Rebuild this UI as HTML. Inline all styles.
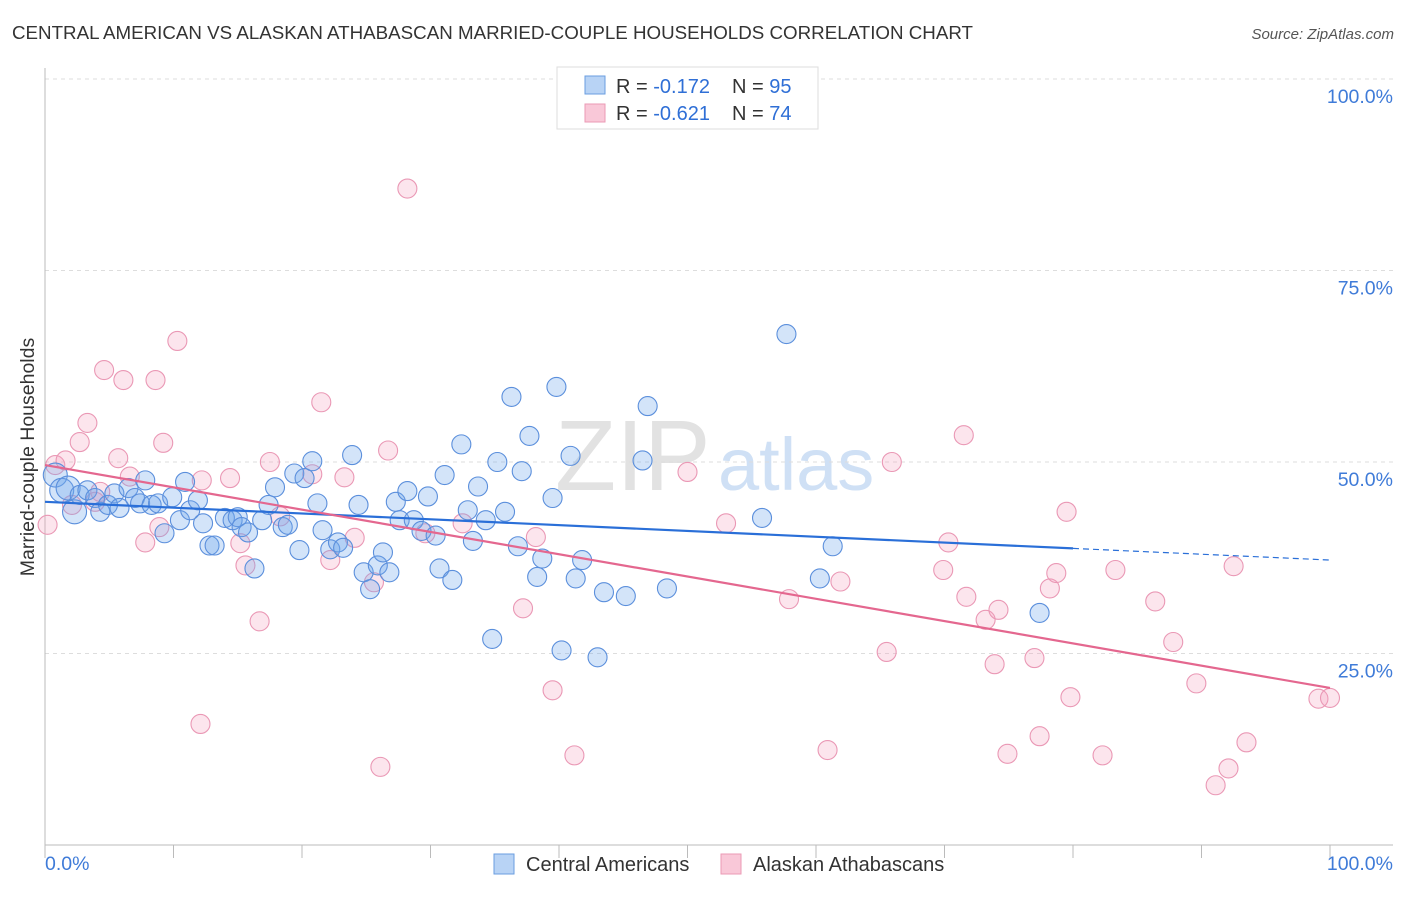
<!DOCTYPE html>
<html><head><meta charset="utf-8"><style>
body{margin:0;background:#fff;font-family:"Liberation Sans",sans-serif;}
svg text{font-family:"Liberation Sans",sans-serif;}
</style></head><body>
<svg id="chart" width="1406" height="892" viewBox="0 0 1406 892" xmlns="http://www.w3.org/2000/svg">
<text x="12" y="39" font-size="18.6" fill="#333" textLength="961" lengthAdjust="spacingAndGlyphs">CENTRAL AMERICAN VS ALASKAN ATHABASCAN MARRIED-COUPLE HOUSEHOLDS CORRELATION CHART</text>
<text x="1394" y="39" font-size="15" fill="#555" font-style="italic" text-anchor="end">Source: ZipAtlas.com</text>
<text transform="translate(34,457) rotate(-90)" font-size="19.5" fill="#333" text-anchor="middle">Married-couple Households</text>
<g>
<text x="555" y="490" font-size="100" fill="#e2e2e2" font-family="Liberation Serif, serif">ZIP</text>
<text x="718" y="490" font-size="74" fill="#cfe0f5">atlas</text>
</g>
<g id="grid"></g>
<g id="axes"></g>
<g id="marks"></g>
<g id="legend">
<rect x="557" y="67" width="261" height="62" fill="#fff" stroke="#ddd"/>
<rect x="585" y="76" width="20" height="18" fill="#b8d3f5" stroke="#6a9ee0"/>
<rect x="585" y="104" width="20" height="18" fill="#f9c8d8" stroke="#eb9ab5"/>
<text x="616" y="93" font-size="20" fill="#333">R = <tspan fill="#2f6fd6">-0.172</tspan></text>
<text x="732" y="93" font-size="20" fill="#333">N = <tspan fill="#2f6fd6">95</tspan></text>
<text x="616" y="120" font-size="20" fill="#333">R = <tspan fill="#2f6fd6">-0.621</tspan></text>
<text x="732" y="120" font-size="20" fill="#333">N = <tspan fill="#2f6fd6">74</tspan></text>
</g>
<g>
<rect x="494" y="854" width="20" height="20" fill="#b8d3f5" stroke="#6a9ee0"/>
<text x="526" y="871" font-size="20" fill="#333">Central Americans</text>
<rect x="721" y="854" width="20" height="20" fill="#f9c8d8" stroke="#eb9ab5"/>
<text x="753" y="871" font-size="20" fill="#333">Alaskan Athabascans</text>
</g>
</svg>
<script>
const blueX=[0.8,1.3,1.8,2.3,2.7,3.3,3.9,4.3,4.9,5.4,5.8,6.5,7.0,7.4,7.8,8.3,8.8,9.3,9.9,10.5,10.9,11.3,11.9,12.3,12.8,13.2,14.0,14.6,15.0,15.3,15.8,16.3,16.9,17.4,17.9,18.5,18.9,19.4,19.8,20.2,20.8,21.2,21.6,22.2,22.8,23.2,23.9,24.4,24.8,25.3,25.9,26.3,26.8,27.3,27.6,28.2,28.7,29.3,29.8,30.4,30.7,31.1,31.7,32.4,32.9,33.3,33.7,34.3,34.8,35.2,35.8,36.3,36.8,37.1,37.7,38.3,38.7,39.5,39.8,40.2,40.9,41.3,41.8,43.0,43.5,45.2,46.5,46.9,48.4,55.8,57.7,60.3,61.3,77.4];
const blueY=[48.3,46.3,46.6,43.5,45.7,46.3,45.3,43.5,44.4,45.9,44.0,46.6,45.3,44.6,47.6,44.4,44.6,40.7,45.4,42.4,47.4,43.7,45.0,42.0,39.1,39.1,42.7,42.4,42.8,41.5,40.8,36.1,42.4,44.4,46.7,41.5,41.8,48.5,38.5,47.9,50.1,44.6,41.1,38.6,39.5,38.8,50.9,44.4,35.6,33.4,36.5,38.2,35.6,44.8,42.4,46.2,42.4,41.0,45.5,40.4,36.1,48.3,34.6,52.3,43.7,39.7,46.8,42.4,26.9,50.0,43.5,58.5,39.0,48.8,53.4,35.0,37.4,45.3,59.8,25.4,50.8,34.8,37.2,24.5,33.0,32.5,50.2,57.3,33.5,42.7,66.7,34.8,39.0,30.3];
const pinkX=[0.2,0.8,1.6,2.1,2.7,3.3,3.9,4.3,4.6,5.7,6.1,6.6,7.8,8.6,8.9,9.2,10.3,12.1,12.2,14.4,15.2,15.6,16.7,17.5,18.3,20.8,21.5,22.2,23.3,24.1,25.6,26.1,26.7,28.2,29.6,32.5,37.2,38.2,39.5,41.2,50.0,53.0,57.9,60.9,61.9,65.5,65.9,69.9,70.3,71.5,71.7,73.2,73.9,74.2,74.9,77.0,77.4,78.2,78.7,79.5,79.8,82.3,83.3,86.4,87.8,89.6,91.1,92.1,92.5,93.5,99.1,100.0];
const pinkY=[41.8,49.6,50.2,44.4,52.6,55.1,44.8,46.1,62.0,50.5,60.7,48.1,39.5,60.7,41.5,52.5,65.8,15.8,47.6,47.9,39.4,36.5,29.2,50.0,42.9,48.4,57.8,37.2,48.0,40.1,34.3,10.2,51.5,85.7,40.7,42.0,30.9,40.2,20.2,11.7,48.7,42.0,32.1,12.4,34.4,25.2,50.0,35.9,39.5,53.5,32.4,29.4,23.6,30.7,11.9,24.4,14.2,33.5,35.5,43.5,19.3,11.7,35.9,31.8,26.5,21.1,7.8,10.0,36.4,13.4,19.1,19.2];
const blueTrend=[44.8,-0.076];
const pinkTrend=[49.6,-0.291];
const yTicks=[25,50,75,100];
const yTickLabels=["25.0%","50.0%","75.0%","100.0%"];
const xTickVals=[0,10,20,30,40,50,60,70,80,90,100];

const NS="http://www.w3.org/2000/svg";
const X0=45,X1=1330,Y0=845,Y100=79;
const sx=v=>X0+(X1-X0)*v/100;
const sy=v=>Y0-(Y0-Y100)*v/100;
function mk(tag,attrs,parent){const e=document.createElementNS(NS,tag);for(const k in attrs)e.setAttribute(k,attrs[k]);parent.appendChild(e);return e;}
const grid=document.getElementById('grid'),axes=document.getElementById('axes'),marks=document.getElementById('marks');
yTicks.forEach((t,i)=>{
  const l=mk('line',{x1:X0,x2:1393,y1:sy(t),y2:sy(t),stroke:'#ddd','stroke-dasharray':'4,4'},grid);
  
  
  const tx=mk('text',{x:1393,y:sy(t)+24,'font-size':19.5,fill:'#3f7bd8','text-anchor':'end'},axes);
  tx.textContent=yTickLabels[i];
  
  
});
const ax=mk('line',{x1:X0,x2:1393,y1:Y0,y2:Y0,stroke:'#bbb'},axes);


const ay=mk('line',{x1:X0,x2:X0,y1:68,y2:Y0,stroke:'#bbb'},axes);


xTickVals.forEach(t=>{
  const l=mk('line',{x1:sx(t),x2:sx(t),y1:Y0,y2:Y0+13,stroke:'#bbb'},axes);
  
  
});
const xl0=mk('text',{x:45,y:870,'font-size':19.5,fill:'#3f7bd8'},axes);xl0.textContent='0.0%';


const xl1=mk('text',{x:1393,y:870,'font-size':19.5,fill:'#3f7bd8','text-anchor':'end'},axes);xl1.textContent='100.0%';



function dots(xs,ys,fill,stroke,name){
  xs.forEach((x,i)=>{
    const r=(x<2.5&&name==='central-american-point')?12:9.5;
    const c=mk('circle',{cx:sx(x),cy:sy(ys[i]),r:r,fill:fill,stroke:stroke,'stroke-width':1.1},marks);
    
    
  });
}
dots(pinkX,pinkY,'rgba(244,160,190,0.28)','#ea98b5','athabascan-point');
dots(blueX,blueY,'rgba(110,165,235,0.3)','#5b8fdc','central-american-point');
const bt=v=>blueTrend[0]+blueTrend[1]*v, pt=v=>pinkTrend[0]+pinkTrend[1]*v;
const b1=mk('line',{x1:sx(0),y1:sy(bt(0)),x2:sx(80),y2:sy(bt(80)),stroke:'#2a6fd8','stroke-width':2.2},marks);


const b2=mk('line',{x1:sx(80),y1:sy(bt(80)),x2:sx(100),y2:sy(bt(100)),stroke:'#2a6fd8','stroke-width':1.2,'stroke-dasharray':'6,4'},marks);


const p1=mk('line',{x1:sx(0),y1:sy(pt(0)),x2:sx(100),y2:sy(pt(100)),stroke:'#e4678f','stroke-width':2.2},marks);


</script>
</body></html>
